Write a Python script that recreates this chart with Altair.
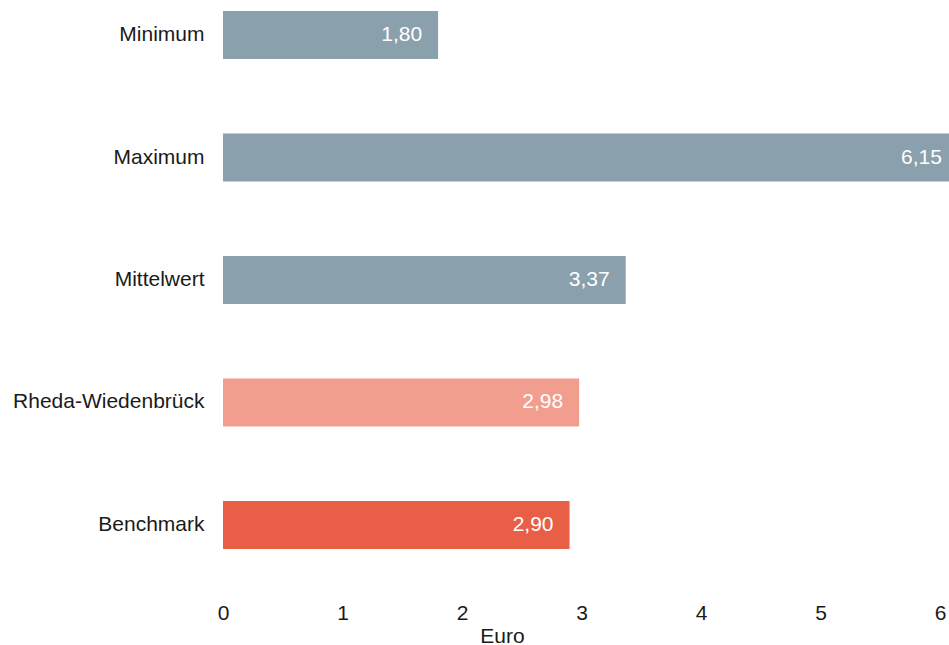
import altair as alt
import pandas as pd

categories = ["Minimum", "Maximum", "Mittelwert", "Rheda-Wiedenbrück", "Benchmark"]
values = [1.80, 6.15, 3.37, 2.98, 2.90]
labels = ["1,80", "6,15", "3,37", "2,98", "2,90"]
colors = ["#8aa0ac", "#8aa0ac", "#8aa0ac", "#f29e8f", "#e85e47"]

df = pd.DataFrame({"cat": categories, "val": values, "lab": labels, "col": colors})

FS = 21
y = alt.Y("cat:N", sort=categories, title=None,
          scale=alt.Scale(paddingInner=0.608, paddingOuter=0.09),
          axis=alt.Axis(domain=False, ticks=False, labelFontSize=FS, labelColor="#1a1a1a",
                        labelFont="Liberation Sans", labelPadding=19, labelLimit=400))
x = alt.X("val:Q", title="Euro",
          scale=alt.Scale(domain=[0, 6], nice=False, clamp=False),
          axis=alt.Axis(domain=False, ticks=False, grid=False, values=[0, 1, 2, 3, 4, 5, 6],
                        format="d", labelFlush=False,
                        labelFontSize=FS, labelColor="#1a1a1a", labelFont="Liberation Sans",
                        titleFontSize=FS, titleFont="Liberation Sans", titleFontWeight="normal",
                        titleColor="#1a1a1a", offset=32, labelPadding=10, titlePadding=2,
                        titleX=279, titleAlign="center", titleAnchor="start"))

bars = alt.Chart(df).mark_bar(clip=False).encode(
    x=x, y=y, color=alt.Color("col:N", scale=None)
)
text = alt.Chart(df).mark_text(align="right", dx=-16, color="white", fontSize=FS,
                               font="Liberation Sans", baseline="middle").encode(
    x="val:Q", y=alt.Y("cat:N", sort=categories), text="lab:N"
)

chart = (bars + text).properties(
    width=717, height=560,
    padding={"left": 223, "top": 0, "right": 9, "bottom": 85},
    autosize=alt.AutoSizeParams(type="none")
).configure_view(stroke=None)

chart.save("out.html", embed_options={"renderer": "svg", "actions": False})
